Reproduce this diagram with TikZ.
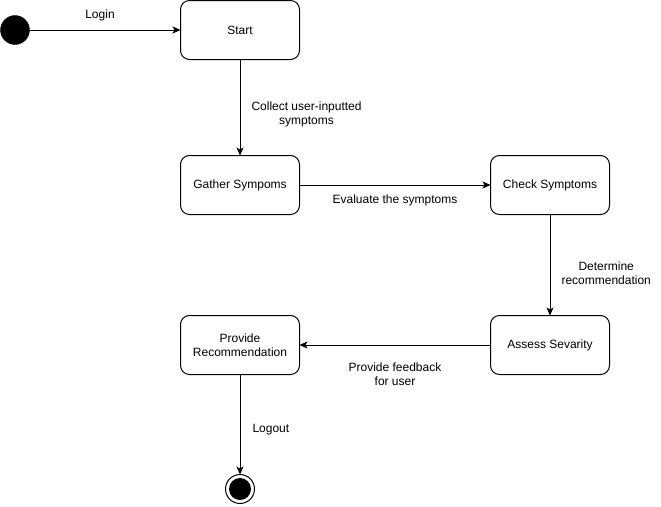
\documentclass[tikz,border=0pt]{standalone}
\usepackage{fontspec}
\setmainfont{Liberation Sans}
\usetikzlibrary{positioning,arrows.meta}
\tikzset{
  state/.style={draw,line width=1pt,rounded corners=9pt,minimum width=119pt,minimum height=59pt,inner sep=0pt,outer sep=0pt,align=center,font=\fontsize{12}{14}\selectfont},
  initdot/.style={circle,fill=black,draw,minimum size=29pt,inner sep=0pt,outer sep=0pt},
  finaldot/.style={circle,draw,line width=1pt,minimum size=29pt,inner sep=0pt,outer sep=0pt},
  lbl/.style={align=center,font=\fontsize{12}{14}\selectfont,inner sep=0pt},
  arr/.style={-{Stealth[length=8pt,width=7pt,inset=2pt]},line width=1pt},
}
\begin{document}
\begin{tikzpicture}[x=1pt,y=1pt,node distance=95pt and 150pt]
  \useasboundingbox (0,0) rectangle (661,-506);
  \node[initdot] (init) at (15,-30) {};
  \node[state,right=151pt of init] (start) {Start};
  \node[state,below=96pt of start] (gather) {Gather Sympoms};
  \node[state,right=191pt of gather] (check) {Check Symptoms};
  \node[state,below=101pt of check] (assess) {Assess Sevarity};
  \node[state,left=191pt of assess] (recom) {Provide\\Recommendation};
  \node[finaldot,below=100pt of recom] (final) {};
  \fill (final.center) circle (11pt);
  \draw[arr] (init) -- node[lbl,above=9pt,xshift=-5pt]{Login} (start);
  \draw[arr] (start) -- node[lbl,right=11pt,yshift=-7pt]{Collect user-inputted\\symptoms} (gather);
  \draw[arr] (gather) -- node[lbl,below=9pt]{Evaluate the symptoms} (check);
  \draw[arr] (check) -- node[lbl,right=11pt,yshift=-8pt]{Determine\\recommendation} (assess);
  \draw[arr] (assess) -- node[lbl,below=17pt]{Provide feedback\\for user} (recom);
  \draw[arr] (recom) -- node[lbl,right=12pt,yshift=-5pt]{Logout} (final);
\end{tikzpicture}
\end{document}
